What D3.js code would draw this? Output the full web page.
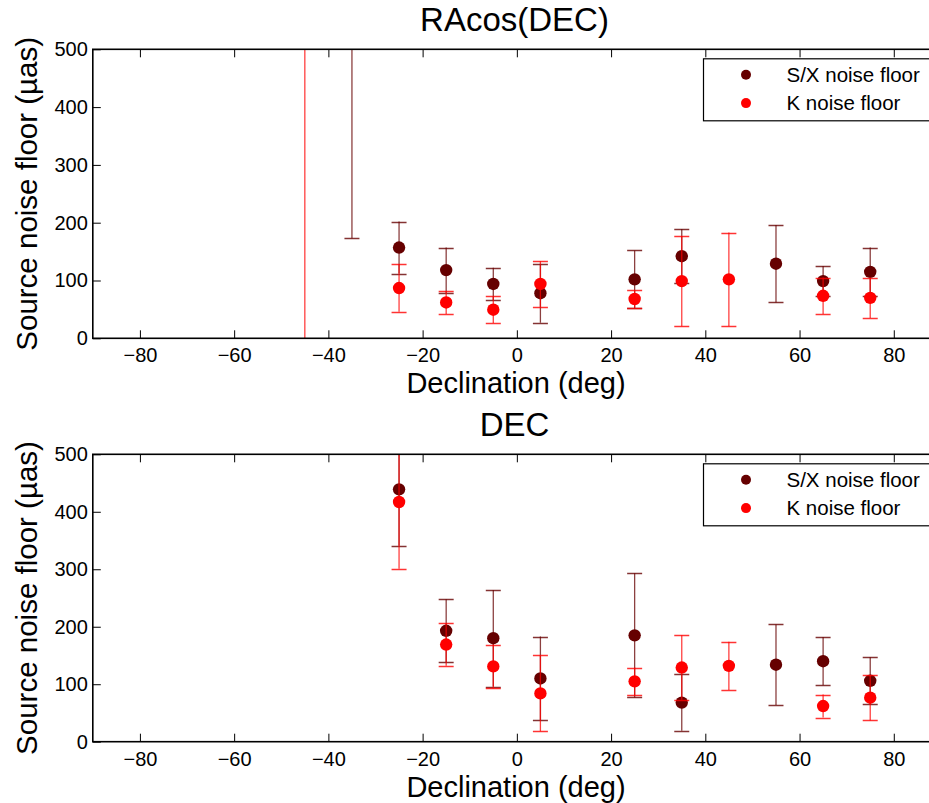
<!DOCTYPE html>
<html lang="en">
<head>
<meta charset="utf-8">
<title>Source noise floor vs declination</title>
<script src="https://cdn.jsdelivr.net/npm/d3@7"></script>
<style>
  body { margin: 0; background: white; }
  svg { display: block; font-family: "Liberation Sans", Arial, Helvetica, sans-serif; }
  .tick line { stroke: #000; }
  .axis path { stroke: none; }
  .axis text { font-size: 20px; fill: #000; }
</style>
</head>
<body>
<script>
// RAcos(DEC) panel
var raSxDecl = [-35, -25, -15, -5, 5, 25, 35, 55, 65, 75];
var raSx     = [800, 157, 118, 94, 78, 102, 142, 129, 99, 115];
var raSxErr  = [627, 45, 39, 28, 51, 50, 47, 67, 26, 42];
var raKDecl  = [-45, -25, -15, -5, 5, 25, 35, 45, 65, 75];
var raK      = [900, 87, 62, 49.5, 94, 68, 99, 102, 73.5, 70];
var raKErr   = [1000, 41, 20, 23, 39.5, 15, 78, 81, 31.5, 35];

// DEC panel
var decSxDecl = [-25, -15, -5, 5, 25, 35, 55, 65, 75];
var decSx     = [439, 193, 180, 110, 185, 68, 134, 140, 106];
var decSxErr  = [98, 55, 84, 73, 108, 49, 70, 42, 41];
var decKDecl  = [-25, -15, -5, 5, 25, 35, 45, 65, 75];
var decK      = [417, 169, 131, 84, 105, 129, 132, 62, 76.5];
var decKErr   = [116, 37, 38, 66, 24, 56, 42, 20, 39.5];

var xTicks = [-80, -60, -40, -20, 0, 20, 40, 60, 80];
var yTicks = [0, 100, 200, 300, 400, 500];
var seriesNames = ["S/X noise floor", "K noise floor"];
var seriesColors = ["#660000", "#ff0000"];

var W = 929, H = 803;
var svg = d3.select("body").append("svg").attr("width", W).attr("height", H);

var x = d3.scaleLinear().domain([-90, 90]).range([92.8, 940.9]);

function zip(decl, val, err) {
  return decl.map(function(d, i) { return {x: d, y: val[i], e: err[i]}; });
}

function panel(id, top, bottom, title, series) {
  var y = d3.scaleLinear().domain([0, 500]).range([bottom, top]);
  var g = svg.append("g");

  g.append("clipPath").attr("id", "clip" + id)
    .append("rect")
    .attr("x", x(-90)).attr("y", top)
    .attr("width", x(90) - x(-90)).attr("height", bottom - top);

  var plot = g.append("g").attr("clip-path", "url(#clip" + id + ")");

  series.forEach(function(s, si) {
    var col = seriesColors[si];
    var pts = plot.append("g");
    pts.selectAll("line.bar").data(s).enter().append("line")
      .attr("class", "bar")
      .attr("x1", function(d) { return x(d.x); })
      .attr("x2", function(d) { return x(d.x); })
      .attr("y1", function(d) { return y(d.y - d.e); })
      .attr("y2", function(d) { return y(d.y + d.e); })
      .attr("stroke", col).attr("stroke-width", 1.3).attr("stroke-opacity", 0.75);
    [-1, 1].forEach(function(sg) {
      pts.selectAll("line.cap" + sg).data(s).enter().append("line")
        .attr("x1", function(d) { return x(d.x) - 7.5; })
        .attr("x2", function(d) { return x(d.x) + 7.5; })
        .attr("y1", function(d) { return Math.round(y(d.y + sg * d.e)) + 0.5; })
        .attr("y2", function(d) { return Math.round(y(d.y + sg * d.e)) + 0.5; })
        .attr("stroke", col).attr("stroke-width", 1.3).attr("stroke-opacity", 0.8);
    });
    pts.selectAll("circle").data(s).enter().append("circle")
      .attr("cx", function(d) { return x(d.x); })
      .attr("cy", function(d) { return y(d.y); })
      .attr("r", 6.2)
      .attr("fill", col);
  });

  // axes, ticks inside
  g.append("g").attr("class", "axis")
    .attr("transform", "translate(0," + bottom + ")")
    .call(d3.axisBottom(x).tickValues(xTicks).tickSizeInner(-8).tickSizeOuter(0).tickPadding(10)
      .tickFormat(function(d) { return d < 0 ? "\u2212" + Math.abs(d) : d; }));
  g.append("g").attr("class", "axis")
    .attr("transform", "translate(0," + top + ")")
    .call(d3.axisTop(x).tickValues(xTicks).tickSizeInner(-8).tickSizeOuter(0).tickFormat(""));
  g.append("g").attr("class", "axis")
    .attr("transform", "translate(" + x(-90) + ",0)")
    .call(d3.axisLeft(y).tickValues(yTicks).tickSizeInner(-8).tickSizeOuter(0).tickPadding(5));
  g.append("g").attr("class", "axis")
    .attr("transform", "translate(" + x(90) + ",0)")
    .call(d3.axisRight(y).tickValues(yTicks).tickSizeInner(-8).tickSizeOuter(0).tickFormat(""));

  g.append("rect")
    .attr("x", x(-90)).attr("y", top)
    .attr("width", x(90) - x(-90)).attr("height", bottom - top)
    .attr("fill", "none").attr("stroke", "#000").attr("stroke-width", 1.6);

  g.append("text")
    .attr("x", 514.5).attr("y", top - 18)
    .attr("text-anchor", "middle").attr("font-size", 33)
    .text(title);

  g.append("text")
    .attr("x", 516).attr("y", bottom + 55)
    .attr("text-anchor", "middle").attr("font-size", 29)
    .text("Declination (deg)");

  g.append("text")
    .attr("transform", "translate(37," + ((top + bottom) / 2) + ") rotate(-90)")
    .attr("text-anchor", "middle").attr("font-size", 29.5)
    .text("Source noise floor (\u00b5as)");

  // legend
  var lg = g.append("g").attr("transform", "translate(703.5," + (top + 9.5) + ")");
  lg.append("rect").attr("width", 260).attr("height", 62)
    .attr("fill", "white").attr("stroke", "#000").attr("stroke-width", 1.2);
  seriesNames.forEach(function(n, i) {
    lg.append("circle").attr("cx", 42.5).attr("cy", 16 + i * 28.3).attr("r", 5)
      .attr("fill", seriesColors[i]);
    lg.append("text").attr("x", 83).attr("y", 23 + i * 28.3)
      .attr("font-size", 20.5).text(n);
  });
}

panel("a", 49.3, 338.3, "RAcos(DEC)", [zip(raSxDecl, raSx, raSxErr), zip(raKDecl, raK, raKErr)]);
panel("b", 454.3, 741.7, "DEC", [zip(decSxDecl, decSx, decSxErr), zip(decKDecl, decK, decKErr)]);
</script>
</body>
</html>
